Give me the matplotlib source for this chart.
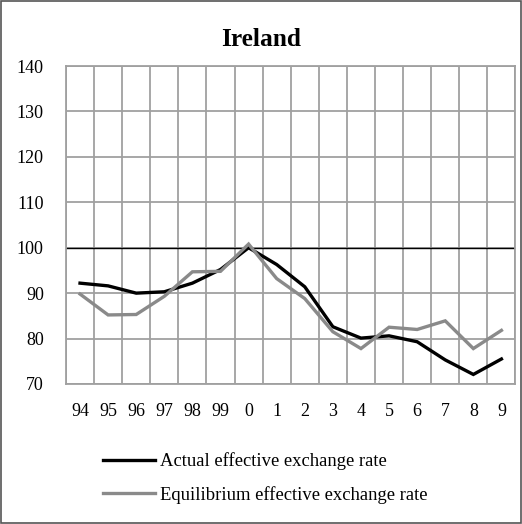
import numpy as np
import matplotlib.pyplot as plt
from matplotlib.patches import Rectangle

plt.rcParams['font.family'] = ['Liberation Serif', 'DejaVu Serif']

years = ['94', '95', '96', '97', '98', '99', '0', '1', '2', '3', '4', '5', '6', '7', '8', '9']
actual = [92.2, 91.6, 90.0, 90.3, 92.2, 95.2, 100.0, 96.3, 91.4, 82.6, 80.1, 80.6, 79.3, 75.3, 72.1, 75.5]
equil = [89.8, 85.2, 85.3, 89.3, 94.7, 94.8, 100.8, 93.2, 88.8, 81.5, 77.8, 82.5, 82.0, 83.9, 77.8, 81.8]

fig = plt.figure(figsize=(5.22, 5.24), dpi=100)
ax = fig.add_axes([0.1264, 0.2672, 0.8611, 0.6068])

x = np.arange(len(years))
ax.plot(x, actual, color='black', lw=2.4, solid_joinstyle='miter',
        label='Actual effective exchange rate', zorder=3)
ax.plot(x, equil, color='#8a8a8a', lw=2.4, solid_joinstyle='miter',
        label='Equilibrium effective exchange rate', zorder=4)
ax.axhline(100, color='black', lw=1.0, zorder=2)

ax.set_xlim(-0.5, len(years) - 0.5)
ax.set_ylim(70, 140)
ax.set_yticks(np.arange(70, 141, 10))
ax.set_xticks(x)
ax.set_xticklabels(years)
ax.set_xticks(np.arange(-0.5, len(years), 1), minor=True)
ax.grid(True, which='minor', axis='x', color='#a0a0a0', lw=1.3)
ax.grid(True, which='major', axis='y', color='#a0a0a0', lw=1.3)
ax.tick_params(which='both', length=0, labelsize=13)
ax.tick_params(axis='y', pad=16)
ax.tick_params(axis='x', pad=13.5)
for s in ax.spines.values():
    s.set_color('#a0a0a0')
    s.set_linewidth(1.3)

fig.text(0.5, 0.925, 'Ireland', ha='center', va='center', fontsize=18.3, fontweight='bold')

fig.legend(loc='upper left', bbox_to_anchor=(0.197, 0.137), frameon=False,
           fontsize=13.4, handlelength=2.8, handletextpad=0.27, labelspacing=0.86,
           borderaxespad=0, borderpad=0)

fig.patches.append(Rectangle((0.002, 0.002), 0.996, 0.996, transform=fig.transFigure,
                             fill=False, edgecolor='#555555', lw=1.2))

plt.savefig('out.png', dpi=100)
plt.close()
